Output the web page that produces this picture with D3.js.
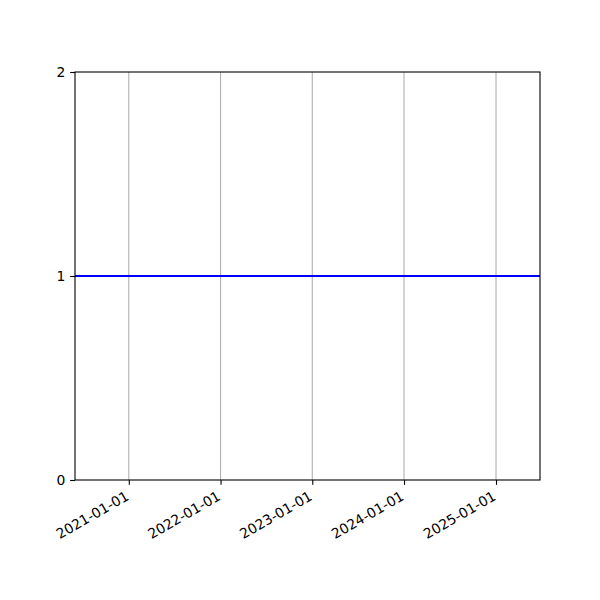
<!DOCTYPE html>
<html>
<head>
<meta charset="utf-8">
<script src="https://cdn.jsdelivr.net/npm/d3@7"></script>
<style>
  html, body { margin: 0; padding: 0; background: #fff; }
  text { font-family: "DejaVu Sans", sans-serif; }
</style>
</head>
<body>
<svg id="chart" width="600" height="600"></svg>
<script>
// ─── Data ───
const dates = ["2020-06-01", "2025-06-25"];
const values = [1, 1];
const xTickLabels = ["2021-01-01", "2022-01-01", "2023-01-01", "2024-01-01", "2025-01-01"];
const yTickValues = [0, 1, 2];

// ─── Layout (matplotlib 6x6in @100dpi, autofmt_xdate) ───
const MARGIN = { left: 75, right: 60, top: 72, bottom: 120 };
const WIDTH = 600 - MARGIN.left - MARGIN.right;
const HEIGHT = 600 - MARGIN.top - MARGIN.bottom;
const FONT = 13.9;
const TICK = 4.86;

const parse = d3.utcParse("%Y-%m-%d");
const series = dates.map((d, i) => ({ date: parse(d), value: values[i] }));

const svg = d3.select("#chart")
  .append("g")
  .attr("transform", `translate(${MARGIN.left},${MARGIN.top})`);

// ─── Scales ───
const x = d3.scaleUtc()
  .domain(d3.extent(series, (d) => d.date))
  .range([0, WIDTH]);
const y = d3.scaleLinear().domain([0, 2]).range([HEIGHT, 0]);

const xTicks = xTickLabels.map(parse);

// Grid (x only)
svg.append("g")
  .selectAll("line")
  .data(xTicks)
  .join("line")
  .attr("x1", (d) => x(d))
  .attr("x2", (d) => x(d))
  .attr("y1", 0)
  .attr("y2", HEIGHT)
  .attr("stroke", "#b0b0b0")
  .attr("stroke-width", 1.1);

// Line
svg.append("path")
  .datum(series)
  .attr("fill", "none")
  .attr("stroke", "#0000ff")
  .attr("stroke-width", 2.1)
  .attr("d", d3.line().x((d) => x(d.date)).y((d) => y(d.value)));

// ─── Axes ───
const xAxisG = svg.append("g")
  .attr("transform", `translate(0,${HEIGHT})`)
  .call(d3.axisBottom(x).tickValues(xTicks).tickSize(TICK).tickSizeOuter(0).tickFormat(d3.utcFormat("%Y-%m-%d")));

xAxisG.selectAll(".tick text")
  .attr("font-size", FONT)
  .attr("font-family", "DejaVu Sans")
  .attr("fill", "#000")
  .attr("text-anchor", "end")
  .attr("dy", null)
  .attr("y", null)
  .attr("transform", "translate(0.5,19) rotate(-30)");

const yAxisG = svg.append("g")
  .call(d3.axisLeft(y).tickValues(yTickValues).tickSize(TICK).tickSizeOuter(0).tickPadding(4.86).tickFormat(d3.format("d")));

yAxisG.selectAll(".tick text")
  .attr("font-size", FONT)
  .attr("font-family", "DejaVu Sans")
  .attr("fill", "#000");

[xAxisG, yAxisG].forEach((g) => {
  g.select(".domain").remove();
  g.selectAll(".tick line").attr("stroke", "#000").attr("stroke-width", 1.1);
});

// Spines
svg.append("rect")
  .attr("x", 0)
  .attr("y", 0)
  .attr("width", WIDTH)
  .attr("height", HEIGHT)
  .attr("fill", "none")
  .attr("stroke", "#000")
  .attr("stroke-width", 1.1);
</script>
</body>
</html>
